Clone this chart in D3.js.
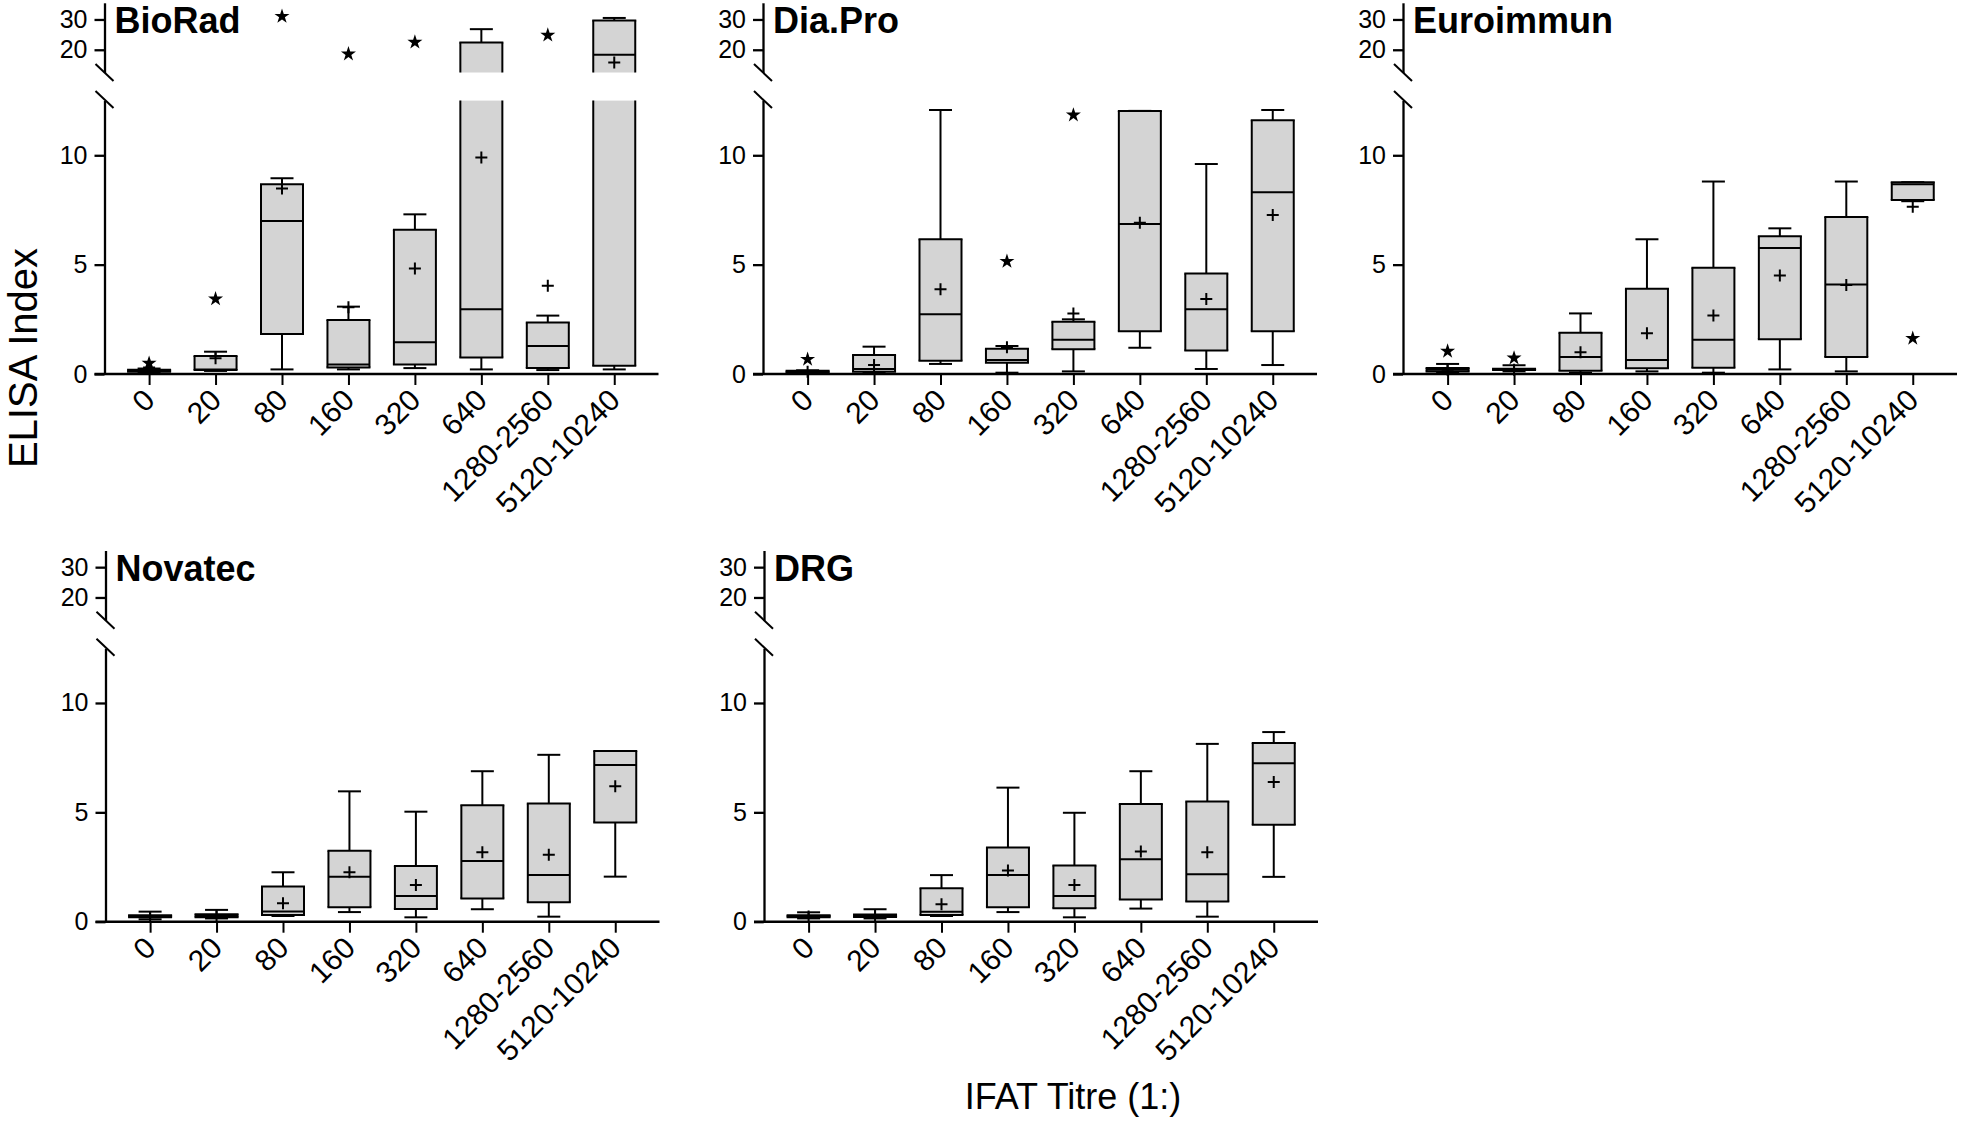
<!DOCTYPE html>
<html>
<head>
<meta charset="utf-8">
<script src="https://cdn.jsdelivr.net/npm/d3@7"></script>
<style>
  html, body { margin: 0; padding: 0; background: #ffffff; }
  svg { display: block; font-family: Arial, "Liberation Sans", Helvetica, sans-serif; }
</style>
</head>
<body>
<svg id="chart" width="1961" height="1121"></svg>
<script>
// ---------- DATA ----------
const categories = ["0", "20", "80", "160", "320", "640", "1280-2560", "5120-10240"];
const assays = ["BioRad", "Dia.Pro", "Euroimmun", "Novatec", "DRG"];
const lowerTicks = [0, 5, 10];
const upperTicks = [20, 30];
const xTitle = "IFAT Titre (1:)";
const yTitle = "ELISA Index";

// each row: [whisker low, Q1, median, Q3, whisker high, mean]
const bioRadStats = [
  [0.05, 0.10, 0.15, 0.20, 0.25, 0.30],
  [0.14, 0.18, 0.21, 0.82, 1.02, 0.72],
  [0.21, 1.83, 7.00, 8.67, 8.95, 8.48],
  [0.21, 0.30, 0.44, 2.47, 3.08, 3.05],
  [0.27, 0.44, 1.45, 6.59, 7.30, 4.82],
  [0.21, 0.76, 2.96, 22.4, 26.8, 9.90],
  [0.18, 0.27, 1.28, 2.35, 2.67, 4.04],
  [0.21, 0.38, 18.35, 29.7, 30.5, 15.8]
];
const diaProStats = [
  [0.04, 0.06, 0.10, 0.15, 0.17, 0.10],
  [0.06, 0.10, 0.23, 0.87, 1.25, 0.41],
  [0.46, 0.61, 2.73, 6.16, 12.07, 3.87],
  [0.06, 0.52, 0.64, 1.16, 1.28, 1.22],
  [0.12, 1.13, 1.57, 2.39, 2.50, 2.77],
  [1.20, 1.95, 6.86, 12.03, 12.03, 6.92],
  [0.23, 1.07, 2.96, 4.59, 9.60, 3.43],
  [0.41, 1.95, 8.31, 11.60, 12.07, 7.27]
];
const euroimmunStats = [
  [0.06, 0.12, 0.20, 0.27, 0.46, 0.20],
  [0.12, 0.18, 0.21, 0.24, 0.40, 0.20],
  [0.06, 0.15, 0.78, 1.89, 2.77, 0.99],
  [0.12, 0.26, 0.64, 3.90, 6.16, 1.86],
  [0.06, 0.29, 1.57, 4.86, 8.80, 2.68],
  [0.21, 1.59, 5.76, 6.30, 6.66, 4.50],
  [0.12, 0.78, 4.09, 7.18, 8.80, 4.07],
  [7.90, 7.96, 8.67, 8.77, 8.77, 7.65]
];
const novatecStats = [
  [0.11, 0.20, 0.25, 0.30, 0.46, 0.22],
  [0.15, 0.20, 0.26, 0.34, 0.54, 0.24],
  [0.26, 0.31, 0.47, 1.61, 2.26, 0.84],
  [0.44, 0.66, 2.06, 3.24, 5.96, 2.26],
  [0.20, 0.58, 1.18, 2.55, 5.03, 1.68],
  [0.57, 1.06, 2.78, 5.32, 6.88, 3.17],
  [0.23, 0.89, 2.14, 5.40, 7.63, 3.06],
  [2.06, 4.54, 7.17, 7.80, 7.80, 6.19]
];
const drgStats = [
  [0.15, 0.20, 0.25, 0.30, 0.43, 0.24],
  [0.15, 0.21, 0.27, 0.33, 0.57, 0.24],
  [0.26, 0.31, 0.46, 1.53, 2.13, 0.80],
  [0.44, 0.66, 2.14, 3.39, 6.13, 2.34],
  [0.20, 0.61, 1.18, 2.57, 4.98, 1.68],
  [0.60, 1.02, 2.86, 5.38, 6.88, 3.21],
  [0.23, 0.92, 2.17, 5.49, 8.13, 3.17],
  [2.05, 4.43, 7.25, 8.17, 8.67, 6.39]
];
// outliers: [category, value]
const bioRadOutliers = [["0", 0.49], ["20", 3.43], ["80", 31.0], ["160", 18.6], ["320", 22.5], ["1280-2560", 24.8]];
const diaProOutliers = [["0", 0.67], ["160", 5.15], ["320", 11.84]];
const euroimmunOutliers = [["0", 1.04], ["20", 0.73], ["5120-10240", 1.63]];
const novatecOutliers = [];
const drgOutliers = [];

const statsByAssay = [bioRadStats, diaProStats, euroimmunStats, novatecStats, drgStats];
const outliersByAssay = [bioRadOutliers, diaProOutliers, euroimmunOutliers, novatecOutliers, drgOutliers];

// ---------- LAYOUT ----------
const panelAxisX = [104.5, 763, 1403, 105.5, 764];
const panelRow = [0, 0, 0, 1, 1];
const rowOffset = [0, 547.7];
const breakValue = 12.5;
const upperMax = 35.5;

const svg = d3.select("#chart");
const BOX_W = 42, CAP_W = 23, STROKE = 2;
const FILL = "#d4d4d4";

function drawPanel(i) {
  const ax = panelAxisX[i];
  const off = rowOffset[panelRow[i]];
  const stats = statsByAssay[i];
  const outs = outliersByAssay[i];
  const g = svg.append("g");

  const x = d3.scalePoint().domain(categories).range([ax + 44.6, ax + 44.6 + 7 * 66.45]);
  const yL = d3.scaleLinear().domain([0, breakValue]).range([off + 374, off + 100.6]);
  const yU = d3.scaleLinear().domain([breakValue, upperMax]).range([off + 72.5, off + 2.8]);
  const Y = v => (v <= breakValue ? yL(v) : yU(v));

  function pieces(a, b) {
    const res = [];
    if (a < breakValue) res.push([yL(a), yL(Math.min(b, breakValue)), true, b <= breakValue]);
    if (b > breakValue) res.push([yU(Math.max(a, breakValue)), yU(b), a >= breakValue, true]);
    return res;
  }

  // y axes (two segments)
  const axL = d3.axisLeft(yL).tickValues(lowerTicks).tickSize(10).tickPadding(7).tickSizeOuter(0);
  const axU = d3.axisLeft(yU).tickValues(upperTicks).tickSize(10).tickPadding(7).tickSizeOuter(0);
  [axL, axU].forEach(a => {
    const ga = g.append("g").attr("transform", `translate(${ax},0)`).call(a);
    ga.selectAll("path,line").attr("stroke", "#000").attr("stroke-width", STROKE + 0.3);
    ga.selectAll("text").attr("font-size", 25).attr("fill", "#000")
      .attr("font-family", "Arial, 'Liberation Sans', sans-serif");
  });
  // break slashes
  [yU(breakValue), yL(breakValue) - 1].forEach(yy => {
    g.append("line").attr("x1", ax - 9).attr("y1", yy - 8.5).attr("x2", ax + 9).attr("y2", yy + 8.5)
      .attr("stroke", "#000").attr("stroke-width", STROKE);
  });

  // x axis
  const y0 = yL(0);
  g.append("line").attr("x1", ax - 10).attr("x2", ax + 554).attr("y1", y0).attr("y2", y0)
    .attr("stroke", "#000").attr("stroke-width", STROKE + 0.6);
  const axB = d3.axisBottom(x).tickSize(11).tickSizeOuter(0);
  const gb = g.append("g").attr("transform", `translate(0,${y0})`).call(axB);
  gb.select(".domain").remove();
  gb.selectAll("line").attr("stroke", "#000").attr("stroke-width", STROKE);
  gb.selectAll("text")
    .attr("font-size", 30).attr("fill", "#000")
    .attr("text-anchor", "end")
    .attr("y", 0).attr("dy", 0)
    .attr("transform", "translate(7,28) rotate(-45)");

  // boxes
  stats.forEach((s, k) => {
    const cx = x(categories[k]);
    const [lo, q1, med, q3, hi, mean] = s;
    pieces(lo, q1).concat(pieces(q3, hi)).forEach(p => {
      g.append("line").attr("x1", cx).attr("x2", cx).attr("y1", p[0]).attr("y2", p[1])
        .attr("stroke", "#000").attr("stroke-width", STROKE);
    });
    [lo, hi].forEach(v => {
      g.append("line").attr("x1", cx - CAP_W / 2).attr("x2", cx + CAP_W / 2).attr("y1", Y(v)).attr("y2", Y(v))
        .attr("stroke", "#000").attr("stroke-width", STROKE);
    });
    pieces(q1, q3).forEach(p => {
      const [yb, yt, bReal, tReal] = p;
      g.append("rect").attr("x", cx - BOX_W / 2).attr("y", yt).attr("width", BOX_W).attr("height", Math.max(yb - yt, 0.5))
        .attr("fill", FILL);
      const sides = [[cx - BOX_W / 2, yb, cx - BOX_W / 2, yt], [cx + BOX_W / 2, yb, cx + BOX_W / 2, yt]];
      if (bReal) sides.push([cx - BOX_W / 2 - 1, yb, cx + BOX_W / 2 + 1, yb]);
      if (tReal) sides.push([cx - BOX_W / 2 - 1, yt, cx + BOX_W / 2 + 1, yt]);
      sides.forEach(l => g.append("line").attr("x1", l[0]).attr("y1", l[1]).attr("x2", l[2]).attr("y2", l[3])
        .attr("stroke", "#000").attr("stroke-width", STROKE));
    });
    g.append("line").attr("x1", cx - BOX_W / 2).attr("x2", cx + BOX_W / 2).attr("y1", Y(med)).attr("y2", Y(med))
      .attr("stroke", "#000").attr("stroke-width", STROKE);
    const my = Y(mean);
    g.append("path").attr("d", `M${cx - 6},${my}H${cx + 6}M${cx},${my - 6}V${my + 6}`)
      .attr("stroke", "#000").attr("stroke-width", STROKE).attr("fill", "none");
  });

  const star = d3.symbol().type(d3.symbolStar).size(70);
  g.selectAll("path.out").data(outs).enter().append("path").attr("class", "out")
    .attr("d", star)
    .attr("transform", d => `translate(${x(d[0])},${Y(d[1])})`)
    .attr("fill", "#000");

  g.append("text").attr("x", ax + 10).attr("y", off + 33)
    .attr("font-size", 36).attr("font-weight", "bold").attr("fill", "#000")
    .text(assays[i]);
}

assays.forEach((a, i) => drawPanel(i));

svg.append("text").attr("x", 1073).attr("y", 1109).attr("text-anchor", "middle")
  .attr("font-size", 36).attr("fill", "#000").text(xTitle);
svg.append("text").attr("transform", "translate(37,358) rotate(-90)").attr("text-anchor", "middle")
  .attr("font-size", 40).attr("fill", "#000").text(yTitle);
</script>
</body>
</html>
